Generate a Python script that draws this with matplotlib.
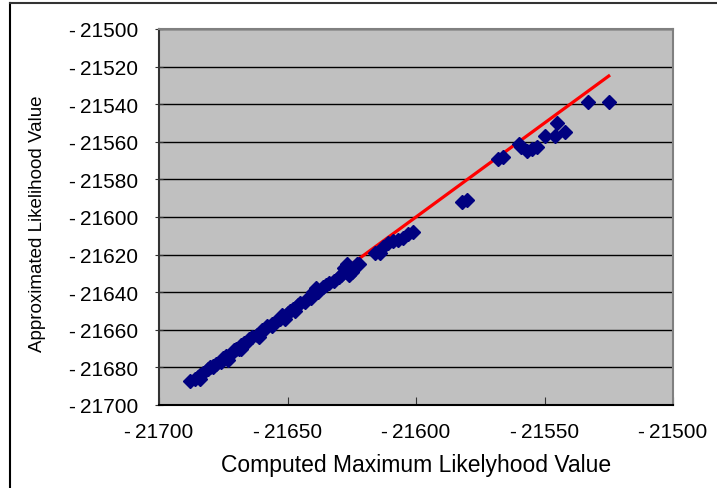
import numpy as np
import matplotlib
matplotlib.use("Agg")
import matplotlib.pyplot as plt
from matplotlib.lines import Line2D

plt.rcParams['font.family'] = ['Liberation Sans', 'DejaVu Sans']

# computed ML value vs approximated value
computed = [-21688, -21686, -21685, -21684, -21683, -21681, -21680, -21679,
            -21678, -21676, -21675, -21674, -21672, -21671, -21670, -21669,
            -21668, -21667, -21666, -21665, -21664, -21662, -21661, -21660,
            -21659, -21658, -21656, -21655, -21653, -21652, -21650, -21649,
            -21648, -21646, -21645, -21643, -21642, -21640, -21639, -21638,
            -21636, -21635, -21634, -21632, -21630, -21629, -21628, -21627,
            -21626, -21625, -21623, -21622, -21616, -21614, -21613, -21611,
            -21609, -21607, -21605, -21603, -21601,
            -21684, -21679, -21673, -21668, -21661, -21656, -21651, -21647, -21641,
            -21582, -21580, -21568, -21566, -21560, -21559, -21557, -21555,
            -21553, -21550, -21546, -21545, -21542, -21533, -21525]
approx = [-21687, -21686, -21685, -21684, -21683, -21681, -21680, -21679,
          -21678, -21677, -21675, -21674, -21673, -21671, -21670, -21670,
          -21668, -21667, -21667, -21665, -21664, -21663, -21662, -21660,
          -21660, -21658, -21657, -21656, -21654, -21652, -21651, -21650,
          -21649, -21647, -21646, -21645, -21643, -21640, -21638, -21640,
          -21637, -21636, -21635, -21634, -21632, -21631, -21627, -21625,
          -21631, -21629, -21625, -21625, -21619, -21619, -21616, -21614,
          -21613, -21612, -21611, -21609, -21608,
          -21686, -21680, -21676, -21670, -21664, -21658, -21654, -21650, -21643,
          -21592, -21591, -21569, -21568, -21561, -21563, -21565, -21564,
          -21563, -21557, -21557, -21550, -21555, -21539, -21539]

# y = x reference line
ref_x = [-21688, -21525]
ref_y = [-21688, -21525]

xticks = np.arange(-21700, -21499, 50)
yticks = np.arange(-21700, -21499, 20)

fig = plt.figure(figsize=(7.17, 4.89), dpi=100)
ax = fig.add_axes([159/717, 1 - 406/489, 514/717, 376/489])
ax.set_facecolor('#C0C0C0')

ax.plot(ref_x, ref_y, color='red', lw=2.3, zorder=2)
ax.plot(computed, approx, 'D', color='#000080', ms=7.5, mec='#000080', zorder=3)

ax.set_xlim(-21700, -21500)
ax.set_ylim(-21700, -21500)
ax.set_xticks(xticks)
ax.set_yticks(yticks)
ax.set_xticklabels(['-\u2009%d' % -t for t in xticks])
ax.set_yticklabels(['-\u2009%d' % -t for t in yticks])
ax.yaxis.grid(True, color='black', lw=1.0)
ax.set_axisbelow(True)

ax.tick_params(axis='x', direction='in', length=6, pad=12, labelsize=15, color='#333333')
ax.tick_params(axis='y', direction='inout', length=6, pad=12, labelsize=15, color='#333333')

for s in ['top', 'right']:
    ax.spines[s].set_color('#808080')
    ax.spines[s].set_linewidth(1.5)
ax.spines['left'].set_color('#333333')
ax.spines['left'].set_linewidth(1.5)
ax.spines['bottom'].set_color('black')
ax.spines['bottom'].set_linewidth(1.5)

fig.text(416/717, 1 - 466/489, 'Computed Maximum Likelyhood Value',
         ha='center', va='center', fontsize=16.5)
fig.text(38/717, 1 - 224/489, 'Approximated Likelihood Value',
         ha='center', va='center', rotation=90, fontsize=13.5)

# outer chart frame (cropped on right and bottom)
fig.add_artist(Line2D([10/717, 10/717], [0, 1 - 4/489], transform=fig.transFigure,
                      color='black', lw=1.5))
fig.add_artist(Line2D([10/717, 1], [1 - 4/489, 1 - 4/489], transform=fig.transFigure,
                      color='#333333', lw=1.5))

fig.savefig('out.png', dpi=100)
